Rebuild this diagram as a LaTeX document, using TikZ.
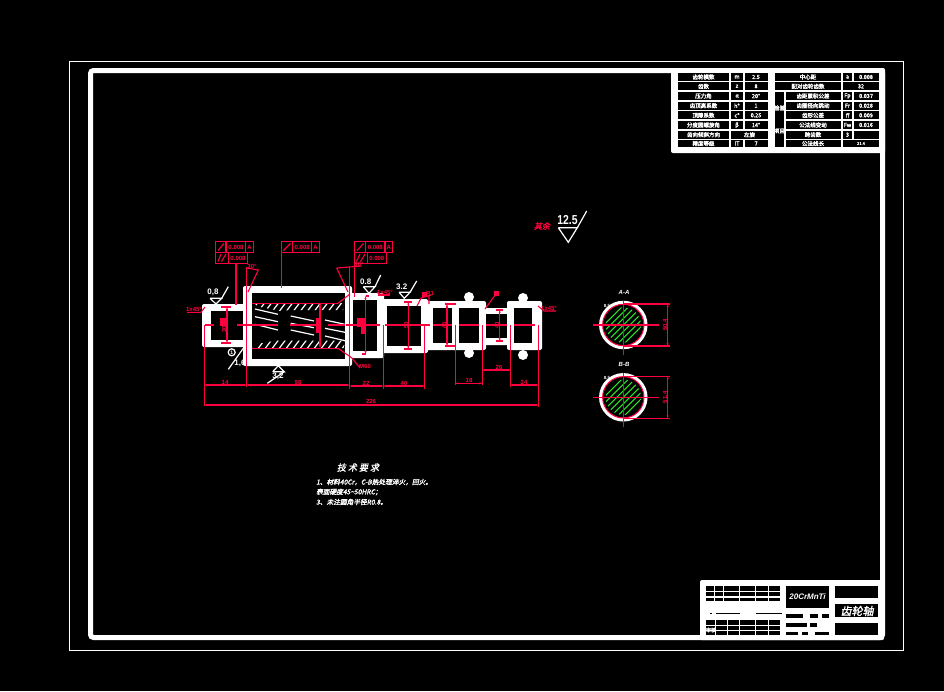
\documentclass[tikz,border=0pt]{standalone}
\usepackage{fontspec}
\usetikzlibrary{arrows.meta}
\setmainfont{Liberation Sans}
\newfontfamily\cjk[FakeBold=2.5]{Noto Sans CJK SC}
\newfontfamily\cjks[FakeSlant=0.2,FakeBold=2]{Noto Sans CJK SC}
\definecolor{cadred}{RGB}{255,0,63}
\definecolor{hatchgreen}{RGB}{40,230,40}
\tikzset{
 wl/.style={draw=white,line width=1.2pt},
 rd/.style={draw=cadred,line width=1.1pt},
 dimline/.style={rd,{Stealth[length=3pt,width=2pt]}-{Stealth[length=3pt,width=2pt]}},
 redtxt/.style={text=cadred,font=\bfseries\fontsize{6}{6}\selectfont,inner sep=0pt},
 tabtxt/.style={text=white,font=\cjk\fontsize{5.5}{6}\selectfont,inner sep=0pt},
 whitetxt/.style={text=white,font=\bfseries\fontsize{8}{8}\selectfont,inner sep=0pt},
 cnote/.style={text=white,font=\cjks\fontsize{6.7}{8}\selectfont,inner sep=0pt,anchor=west},
 tolbox/.style={rd,fill=black}
}
\newcommand{\cellk}[4]{\fill[black] (#1,#2) rectangle (#3,#4);}
\newcommand{\shaftseg}[8]{%
 \fill[white,rounded corners=2pt] (#1,#2) rectangle (#3,#4);
 \fill[black] (#5,#6) rectangle (#7,#8);}
\newcommand{\rough}[7]{% base-left x, base-right x, base y, apex x, apex y, tail x, tail y
 \draw[wl] (#1,#3) -- (#2,#3) -- (#4,#5) -- (#1,#3);
 \draw[wl] (#2,#3) -- (#6,#7);}
\begin{document}
\begin{tikzpicture}[x=1pt,y=-1pt]
\useasboundingbox (0,0) rectangle (944,691);
\fill[black] (0,0) rectangle (944,691);
% sheet frames
\draw[white,line width=0.9pt] (69.5,61.5) rectangle (903.5,650);
\draw[white,line width=5pt,rounded corners=3pt] (90.5,70.5) rectangle (882.5,637.5);

% parameter table
\fill[white,rounded corners=2pt] (671,68) rectangle (885,153);
\foreach \ya/\yb in {73.3/80.7,82.3/90.3,92/100,101.7/109.7,111.3/119.3,121/129,130.7/138.7,140.3/146.5}{
  \cellk{678}{\ya}{729}{\yb}
  \cellk{731}{\ya}{743}{\yb}
  \cellk{744.5}{\ya}{768}{\yb}
  \cellk{785.5}{\ya}{841}{\yb}
  \cellk{843}{\ya}{852}{\yb}
  \cellk{853.5}{\ya}{879}{\yb}
}
\cellk{775}{73.3}{841}{80.7}
\cellk{775}{82.3}{841}{90.3}
\cellk{843}{82.3}{879}{90.3}
\cellk{775}{92}{784}{146.5}
\cellk{731}{130.7}{768}{138.7}
\cellk{843}{140.3}{879}{146.5}
\foreach \yy/\a/\b/\c in {77/齿轮模数/m/2.5,86.3/齿数/z/8,96/压力角/α/20°,105.7/齿顶高系数/h*/1,115.3/顶隙系数/c*/0.25,125/分度圆螺旋角/β/14°,143.5/精度等级/IT/7}{
  \node[tabtxt] (ta\yy) at (703.5,\yy) {\a};
  \node[tabtxt] (tb\yy) at (737,\yy) {\b};
  \node[tabtxt] (tc\yy) at (756,\yy) {\c};
}
\node[tabtxt] (tdir) at (703.5,134.7) {齿向倾斜方向};
\node[tabtxt] (tdirv) at (749.5,134.7) {左旋};
\node[tabtxt] (tr1) at (808,77) {中心距};
\node[tabtxt] (tr1b) at (847.5,77) {a};
\node[tabtxt] (tr1c) at (866,77) {0.008};
\node[tabtxt] (tr2) at (808,86.3) {配对齿轮齿数};
\node[tabtxt] (tr2v) at (861,86.3) {32};
\foreach \yy/\a/\b/\c in {96/齿距累积公差/Fp/0.037,105.7/齿圈径向跳动/Fr/0.028,115.3/齿形公差/ff/0.009,125/公法线变动/Fw/0.016}{
  \node[tabtxt] (ra\yy) at (813,\yy) {\a};
  \node[tabtxt] (rb\yy) at (847.5,\yy) {\b};
  \node[tabtxt] (rc\yy) at (866,\yy) {\c};
}
\node[tabtxt] (rk) at (813,134.7) {跨齿数};
\node[tabtxt] (rkv) at (847.5,134.7) {3};
\node[tabtxt] (rw) at (813,143.5) {公法线长};
\node[tabtxt,font=\cjk\fontsize{4}{4}\selectfont] (rwv) at (861,143.5) {21.4};
\node[tabtxt] (rgr1) at (779.5,108) {检验};
\node[tabtxt] (rgr2) at (779.5,131) {项目};

% title block
\fill[white,rounded corners=2pt] (700,580) rectangle (884,640);
\foreach \ya/\yb in {586.3/590.7,591.7/596.3,597.7/600.7}{
 \foreach \xa/\xb in {706/714,715/723,724/739,740/755,756/767.5,768.5/780}{\cellk{\xa}{\ya}{\xb}{\yb}}
}
\foreach \ya/\yb in {620.3/624.7,625.7/629.7,630.7/634.7}{
 \foreach \xa/\xb in {706/715,716/727,728/739,740/755,756/767.5,768.5/780}{\cellk{\xa}{\ya}{\xb}{\yb}}
}
\foreach \xa/\xb in {710/712,716/740,756/782}{\draw[black,line width=1pt] (\xa,613) -- (\xb,613);}
\cellk{786}{586}{829}{608}
\cellk{835}{586}{878}{598}
\cellk{835}{604}{878}{617}
\cellk{835}{623}{878}{635}
\foreach \xa/\xb in {786/803,810/818,822/829}{\cellk{\xa}{613.5}{\xb}{618}}
\foreach \xa/\xb in {786/807,810/817}{\cellk{\xa}{623}{\xb}{627}}
\foreach \xa/\xb in {786/798,802/808,815/829}{\cellk{\xa}{631.5}{\xb}{635}}
\node[text=white,font=\fontsize{8}{9}\selectfont\itshape\bfseries,inner sep=0pt] (matl) at (807.5,596.5) {20CrMnTi};
\node[text=white,font=\cjks\fontsize{11}{12}\selectfont,inner sep=0pt] (title) at (857,611) {齿轮轴};
\node[text=white,font=\cjk\fontsize{5}{5}\selectfont,inner sep=0pt] (tbl) at (711,630) {审核};

% shaft
\shaftseg{202}{304}{250}{347}{211}{311}{243}{340}
\shaftseg{243}{286}{352}{366}{252}{293}{345}{359}
\shaftseg{346}{293}{384}{358}{353}{300}{377}{351}
\shaftseg{380}{299}{428}{353}{387}{306}{421}{346}
\shaftseg{426}{301}{458}{350}{433}{308}{452}{343}
\fill[white] (469,297) circle (5);
\fill[white] (469,353) circle (5);
\fill[white] (523,298) circle (5);
\fill[white] (523,355) circle (5);
\shaftseg{452}{301}{486}{350}{459}{308}{479}{343}
\shaftseg{483}{308}{510}{345}{486}{314}{507}{338}
\shaftseg{507}{301}{542}{350}{514}{308}{532}{343}

% gear cut-away hatching
\begin{scope}
\clip (253,303) -- (258,306.5) -- (280,311) -- (290,310) -- (343,310) -- (345,303) -- cycle;
\foreach \i in {0,...,13}{\draw[white,line width=1.2pt] (250+\i*7,313) -- (259+\i*7,301);}
\end{scope}
\begin{scope}
\clip (252,348) -- (260,343.5) -- (275,340.7) -- (343,340.7) -- (345,348) -- cycle;
\foreach \i in {0,...,13}{\draw[white,line width=1.2pt] (250+\i*7,350) -- (259+\i*7,338);}
\end{scope}
\foreach \xa/\ya/\xb/\yb in {255/309/278/314.3,255/316.7/278/321.7,255/324.3/278/330,290.7/316/314/321,290.7/323.3/314/327.7,290.7/330/314/335,325/320/345/324.3,325/328.3/345/332.3,325/336/345/340.7}{
 \draw[white,line width=1.2pt] (\xa,\ya) -- (\xb,\yb);
}
\draw[rd] (252,303.3) -- (338,303.3);
\draw[rd] (252,348.3) -- (338,348.3);

% centre lines
\foreach \xa/\xb in {204.5/214,237/243,240/278,290/316,328/345,346/380,385/430,433/452,459/479,486/507,514/535}{
 \draw[rd] (\xa,325) -- (\xb,325);
}

% section views
\foreach \cy/\nm/\val/\sid in {325/A-A/50.4/a,397.3/B-B/51.4/b}{
 \draw[white,line width=4.5pt] (623.3,\cy) circle (22);
 \fill[black] (623.3,\cy) circle (20.5);
 \draw[cadred,line width=1pt] (623.3,\cy) circle (20.7);
 \begin{scope}
  \clip (623.3,\cy) circle (17.7);
  \foreach \i in {-6,...,6}{\draw[hatchgreen,line width=1pt] (623.3-20+\i*6.5,\cy+20) -- (623.3+20+\i*6.5,\cy-20);}
 \end{scope}
 \draw[rd] (593.3,\cy) -- (659,\cy);
 \draw[rd] (623.3,\cy-24) -- (623.3,\cy+30);
 \draw[rd] (623.3,\cy-21) -- (670,\cy-21);
 \draw[rd] (623.3,\cy+21) -- (670,\cy+21);
 \draw[dimline] (667.7,\cy-21) -- (667.7,\cy+21);
 \node[redtxt,rotate=90] (secv\sid) at (665,\cy) {\val};
 \node[text=white,font=\bfseries\fontsize{6}{6}\selectfont\itshape,inner sep=0pt] (sec\sid) at (624,\cy-32.5) {\nm};
 \node[text=white,font=\bfseries\fontsize{4.5}{5}\selectfont,inner sep=0pt] (secc\sid) at (607,\cy-19.5) {8.5};
}

% extension lines and horizontal dimensions
\draw[rd] (204.5,325) -- (204.5,406);
\draw[rd] (246.3,267) -- (246.3,387);
\draw[rd] (349.5,266) -- (349.5,389);
\draw[rd] (383.3,325) -- (383.3,389);
\draw[rd] (424.3,325) -- (424.3,389);
\draw[rd] (455.3,325) -- (455.3,385);
\draw[rd] (482.3,325) -- (482.3,385);
\draw[rd] (510.3,325) -- (510.3,387);
\draw[rd] (538.3,325) -- (538.3,407);
\draw[dimline] (204.5,405) -- (538.3,405);
\draw[dimline] (204.5,385) -- (246.3,385);
\draw[dimline] (246.3,385) -- (349.5,385);
\draw[dimline] (349.5,386) -- (383.3,386);
\draw[dimline] (383.3,386) -- (424.3,386);
\draw[dimline] (455.3,383.3) -- (482.3,383.3);
\draw[dimline] (482.3,370) -- (510.3,370);
\draw[dimline] (510.3,385) -- (538.3,385);
\node[redtxt,anchor=south] (d0) at (371,404) {226};
\node[redtxt,anchor=south] (d1) at (225,384.5) {14};
\node[redtxt,anchor=south] (d2) at (298,384.5) {98};
\node[redtxt,anchor=south] (d3) at (366,385.5) {22};
\node[redtxt,anchor=south] (d4) at (404,385.5) {40};
\node[redtxt,anchor=south] (d5) at (469,382.8) {18};
\node[redtxt,anchor=south] (d6) at (499,369.5) {26};
\node[redtxt,anchor=south] (d7) at (524,384.5) {24};

% vertical dimensions
\draw[dimline] (227,307) -- (227,343);
\draw[dimline] (320,303) -- (320,348);
\draw[dimline] (365.5,296) -- (365.5,354);
\draw[dimline] (408.3,302) -- (408.3,349);
\draw[dimline] (447,304) -- (447,346);
\draw[dimline] (499.7,310) -- (499.7,341);
\draw[rd] (221,307) -- (231,307) (221,343) -- (231,343);
\draw[rd] (365.5,296) -- (369,296) (365.5,354) -- (362,354);
\draw[rd] (404,302) -- (412,302) (404,349) -- (412,349);
\draw[rd] (445,304) -- (456,304) (445,346) -- (456,346);
\draw[rd] (496,310) -- (503,310) (496,341) -- (503,341);
\fill[cadred] (220,318) rectangle (228,325.5);
\fill[cadred] (357,318) rectangle (365,327);
\fill[cadred] (361,327) rectangle (364.5,334);
\fill[cadred] (316,318) rectangle (320,333);
\foreach \xx/\yy/\tt/\sid in {224/329.5/30/p,406/325/50/q,444/325/45/r,497/325/40/s}{
 \node[redtxt,rotate=90] (v\sid) at (\xx,\yy) {\tt};
}

% tolerance frames
\draw[tolbox] (215.7,241.7) rectangle (253.3,252.3);
\draw[tolbox] (215.7,252.3) rectangle (247.3,263.3);
\draw[rd] (226,241.7) -- (226,252.3) (245.7,241.7) -- (245.7,252.3) (228.7,252.3) -- (228.7,263.3);
\draw[rd] (218,250.5) -- (224,243.5) (218,261.5) -- (221,254) (221.5,261.5) -- (226,254);
\node[redtxt] (t1a) at (236,247) {0.008};
\node[redtxt] (t1b) at (249.5,247) {A};
\node[redtxt] (t1c) at (238,258) {0.008};
\draw[rd] (236,263.3) -- (236,305);
\draw[tolbox] (281.3,241.7) rectangle (319.3,252.3);
\draw[rd] (292.7,241.7) -- (292.7,252.3) (311.7,241.7) -- (311.7,252.3);
\draw[rd] (283.5,250.5) -- (290.5,243.5);
\node[redtxt] (t2a) at (302.2,247) {0.008};
\node[redtxt] (t2b) at (315.5,247) {A};
\draw[rd] (281.7,252.3) -- (281.7,288);
\draw[tolbox] (354.3,241.7) rectangle (392.3,252.3);
\draw[tolbox] (354.3,252.3) rectangle (386.3,263.3);
\draw[rd] (365.7,241.7) -- (365.7,252.3) (385,241.7) -- (385,252.3) (367.3,252.3) -- (367.3,263.3);
\draw[rd] (357,250.5) -- (363.5,243.5) (356.5,261.5) -- (360,254) (360.5,261.5) -- (365,254);
\node[redtxt] (t3a) at (375.3,247) {0.008};
\node[redtxt] (t3b) at (388.7,247) {A};
\node[redtxt] (t3c) at (376.8,258) {0.008};
\draw[rd] (354.3,263.3) -- (354.3,297);

% chamfer and angle leaders
\draw[rd] (187,312.3) -- (201,312.3) -- (205,307);
\node[redtxt,anchor=south] (c1) at (194,312) {1x45°};
\draw[rd] (378,295) -- (390,295);
\draw[rd] (377,292) -- (381,295);
\node[redtxt,anchor=south] (c2) at (385,294.5) {1x45°};
\draw[rd] (556,311) -- (544,311) -- (538,306);
\node[redtxt,anchor=south] (c3) at (549,310.5) {1x45°};
\draw[rd] (246.3,268) -- (258.3,270) -- (248,292);
\node[redtxt] (a1) at (252,266) {30°};
\draw[rd] (336.7,268) -- (361.7,266);
\draw[rd] (336.7,268) -- (348,292);
\node[redtxt] (a2) at (359,264) {30°};
\draw[rd] (417,306) -- (421,298) -- (431,295) (429,295) -- (429,304);
\fill[cadred] (421.5,292) rectangle (426.5,297);
\node[redtxt,anchor=west] (a3) at (426,293) {R1};
\fill[cadred] (494,291) rectangle (499,296);
\draw[rd] (496,294) -- (485,309);
\draw[rd] (338,303.3) -- (350,294);
\draw[rd] (338,348.3) -- (352,358) -- (360,368);
\node[redtxt,anchor=west] (lb1) at (359,366.5) {M60};

% roughness symbols
\rough{210}{221.7}{298.3}{216}{304}{228.3}{286.7}
\node[whitetxt] (ra1) at (213,292.7) {0,8};
\rough{363.3}{375}{286.7}{369}{293.3}{380.7}{275}
\node[whitetxt] (ra2) at (365.7,281.7) {0.8};
\rough{399}{410}{292.3}{404.3}{298.3}{416.7}{281}
\node[whitetxt] (ra3) at (401.7,287) {3.2};
\rough{272.7}{284.3}{371.7}{278.3}{365.7}{267.3}{383.3}
\node[whitetxt] (ra4) at (278,376.5) {3,2};
\draw[wl] (228.3,369.3) -- (243.3,348.3);
\draw[wl] (231.7,352.3) circle (3.5);
\node[whitetxt,font=\bfseries\fontsize{5}{5}\selectfont] (ra5) at (231.7,352.3) {1};
\node[whitetxt] (ra6) at (240,363) {1,6};

% general roughness
\node[text=cadred,font=\cjks\fontsize{8}{9}\selectfont,inner sep=0pt] (qy) at (542,226) {其余};
\node[whitetxt,font=\bfseries\fontsize{13}{13}\selectfont,xscale=0.8] (ra7) at (567.5,220.5) {12.5};
\rough{558.3}{577.3}{227.7}{568.3}{242.3}{586.7}{211}

% technical notes
\node[text=white,font=\cjks\fontsize{9}{10}\selectfont,inner sep=0pt] (tj) at (358,467.5) {技 术 要 求};
\node[cnote] (n1) at (316,482) {1、材料40Cr，C-B热处理淬火，回火。};
\node[cnote] (n2) at (316,492) {表面硬度45\textasciitilde 50HRC；};
\node[cnote] (n3) at (316,502) {3、未注圆角半径R0.8。};
\end{tikzpicture}
\end{document}
